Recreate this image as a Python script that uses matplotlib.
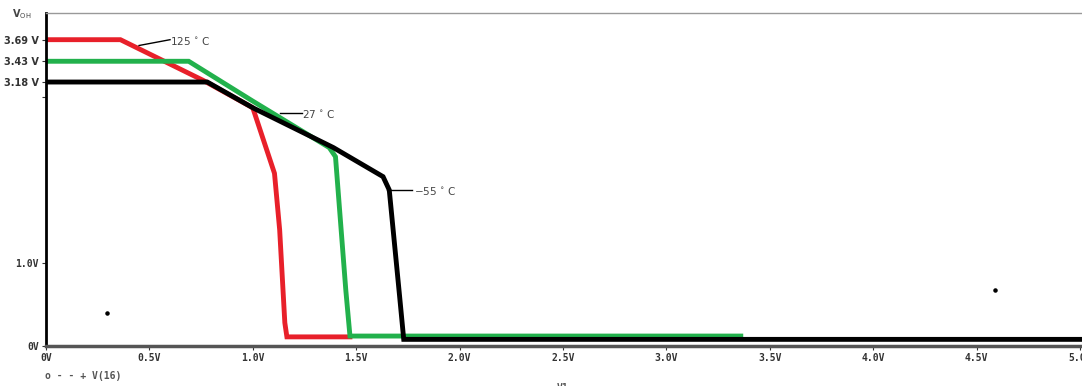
import matplotlib
matplotlib.use("Agg")
import matplotlib.pyplot as plt
import numpy as np

# transfer curves (input V1 in volts, output in volts)
red_x = [0.0, 0.36, 0.76, 1.0, 1.105, 1.13, 1.155, 1.165, 1.47]
red_y = [3.69, 3.69, 3.20, 2.87, 2.08, 1.40, 0.28, 0.11, 0.11]

green_x = [0.0, 0.69, 1.0, 1.37, 1.40, 1.45, 1.47, 3.36]
green_y = [3.43, 3.43, 2.95, 2.39, 2.28, 0.67, 0.12, 0.12]

black_x = [0.0, 0.78, 1.0, 1.39, 1.63, 1.66, 1.71, 1.73, 5.01]
black_y = [3.18, 3.18, 2.87, 2.39, 2.04, 1.88, 0.60, 0.08, 0.08]

dots_x = [0.295, 4.59]
dots_y = [0.40, 0.67]

xticks = [0, 0.5, 1.0, 1.5, 2.0, 2.5, 3.0, 3.5, 4.0, 4.5, 5.0]
xlabels = ["0V", "0.5V", "1.0V", "1.5V", "2.0V", "2.5V", "3.0V", "3.5V", "4.0V", "4.5V", "5.0V"]
yticks = [0, 1.0, 3.0, 3.18, 3.43, 3.69]
ylabels = ["0V", "1.0V", "", "3.18 V", "3.43 V", "3.69 V"]

fig = plt.figure(figsize=(10.82, 3.86), dpi=100)
ax = fig.add_axes([0.0425, 0.1036, 0.9575, 0.8624])

ax.plot(red_x, red_y, color="#e8202a", lw=3.5, solid_joinstyle="miter")
ax.plot(green_x, green_y, color="#22b14c", lw=3.5, solid_joinstyle="miter")
ax.plot(black_x, black_y, color="black", lw=3.5, solid_joinstyle="miter")
ax.scatter(dots_x, dots_y, s=5, color="black")

ax.set_xlim(0, 5.01)
ax.set_ylim(0, 4.01)

mono = dict(family="DejaVu Sans Mono", fontsize=7, fontweight="bold", color="#333333")
ax.set_xticks(xticks)
ax.set_xticklabels(xlabels, **mono)
ax.set_yticks(yticks)
ax.set_yticklabels(ylabels, family="DejaVu Sans", fontsize=7, fontweight="bold", color="#222222")
for lab in ax.get_yticklabels()[:2]:
    lab.set_family("DejaVu Sans Mono")
    lab.set_fontsize(7)
ax.tick_params(axis="both", length=3, width=0.8, pad=2, colors="#333333")

ax.spines["left"].set_linewidth(2)
ax.spines["left"].set_color("black")
ax.spines["bottom"].set_linewidth(2.5)
ax.spines["bottom"].set_color("#555555")
ax.spines["top"].set_linewidth(1)
ax.spines["top"].set_color("#999999")
ax.spines["right"].set_visible(False)

# temperature labels with leader lines
ax.plot([0.45, 0.60], [3.62, 3.69], color="black", lw=1)
ax.text(0.60, 3.68, "125 $^{\\circ}$ C", fontsize=7.5, color="#444444", va="center")
ax.plot([1.13, 1.24], [2.81, 2.81], color="black", lw=1)
ax.text(1.24, 2.80, "27 $^{\\circ}$ C", fontsize=7.5, color="#444444", va="center")
ax.plot([1.65, 1.77], [1.88, 1.88], color="black", lw=1)
ax.text(1.78, 1.87, "\u221255 $^{\\circ}$ C", fontsize=7.5, color="#444444", va="center")

fig.text(0.011, 0.964, "V$_{\\rm OH}$", fontsize=7, fontweight="bold", color="#444444",
         ha="left", va="center")
fig.text(0.042, 0.025, "o - - + V(16)", family="DejaVu Sans Mono", fontsize=7,
         fontweight="bold", color="#555555", va="center")
fig.text(0.515, -0.005, "V1", family="DejaVu Sans Mono", fontsize=7,
         fontweight="bold", color="#555555", va="center")

fig.savefig("out.png", dpi=100)
